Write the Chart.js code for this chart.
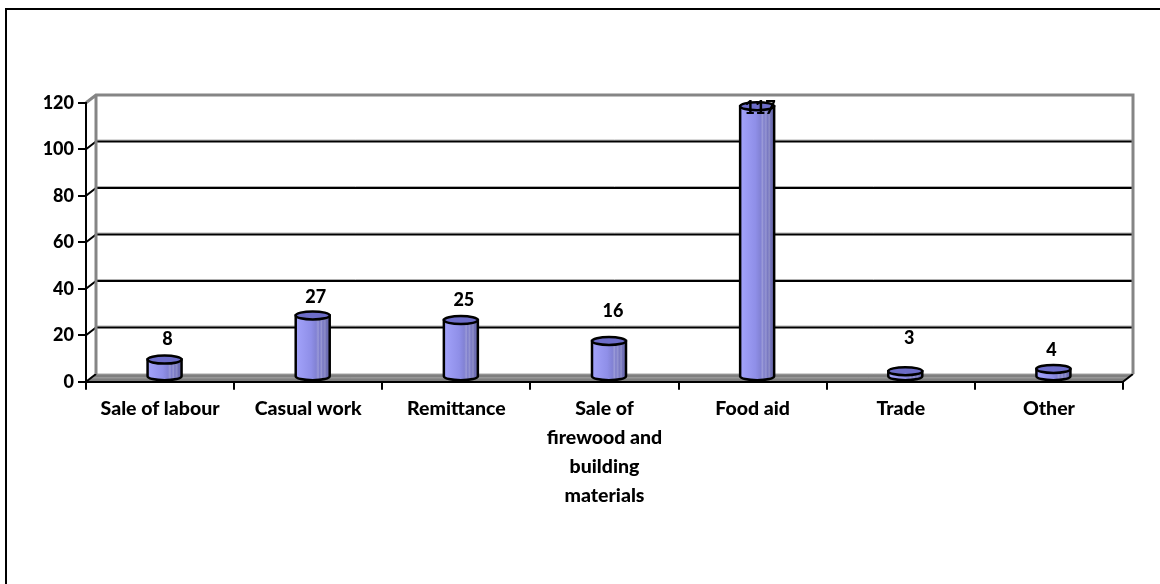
<!DOCTYPE html>
<html>
<head>
<meta charset="utf-8">
<title>Sources of income</title>
<script src="https://cdn.jsdelivr.net/npm/chart.js@4"></script>
<style>
    html, body { margin: 0; padding: 0; background: #fff; overflow: hidden; }
    #frame { position: absolute; left: 5px; top: 8px; width: 1155px; height: 576px;
             border-left: 2px solid #000; border-top: 2px solid #000; box-sizing: border-box; }
    #holder { position: absolute; left: 0; top: 0; width: 1160px; height: 584px; }
</style>
</head>
<body>
<div id="holder"><canvas id="placeholder1" width="1160" height="584"></canvas></div>
<div id="frame"></div>
<script>
const categories = [
    'Sale of labour',
    'Casual work',
    'Remittance',
    ['Sale of', 'firewood and', 'building', 'materials'],
    'Food aid',
    'Trade',
    'Other'
];
const counts = [8, 27, 25, 16, 117, 3, 4];
const yTicks = [0, 20, 40, 60, 80, 100, 120];

// label shift from the value's height on the front axis, hand placed per bar
const labelLift = [-24, -22, -23, -33, -1, -37, -22];
const labelNudge = [3, 3, 3, 4, 3, 4, -2];

const FONT = 'Lato, "Open Sans", sans-serif';
const DEPTH_X = 10;
const DEPTH_Y = 7.7;

// fake 3d box: floor, back wall edges and gridlines pushed back by the depth
const wallsPlugin = {
    id: 'walls',
    beforeDraw(chart) {
        const { ctx, chartArea: a, scales: { y } } = chart;
        const base = y.getPixelForValue(0);
        ctx.save();

        ctx.fillStyle = '#7f7f7f';
        ctx.beginPath();
        ctx.moveTo(a.left, base);
        ctx.lineTo(a.left + DEPTH_X, base - DEPTH_Y);
        ctx.lineTo(a.right + DEPTH_X, base - DEPTH_Y);
        ctx.lineTo(a.right, base);
        ctx.closePath();
        ctx.fill();
        ctx.strokeStyle = '#a6a6a6';
        ctx.lineWidth = 1;
        ctx.beginPath();
        ctx.moveTo(a.left + DEPTH_X, base - DEPTH_Y);
        ctx.lineTo(a.right + DEPTH_X, base - DEPTH_Y);
        ctx.moveTo(a.left + DEPTH_X / 2, base - DEPTH_Y / 2);
        ctx.lineTo(a.right + DEPTH_X / 2, base - DEPTH_Y / 2);
        ctx.stroke();

        yTicks.forEach(v => {
            if (v === 0 || v === 120) return;
            const py = y.getPixelForValue(v);
            // thin grey edge sits just above each black gridline
            ctx.strokeStyle = '#b0b0b0';
            ctx.lineWidth = 1;
            ctx.beginPath();
            ctx.moveTo(a.left + DEPTH_X, py - DEPTH_Y - 1.5);
            ctx.lineTo(a.right + DEPTH_X, py - DEPTH_Y - 1.5);
            ctx.stroke();
            ctx.strokeStyle = '#000';
            ctx.lineWidth = 2;
            ctx.beginPath();
            ctx.moveTo(a.left, py);
            ctx.lineTo(a.left + DEPTH_X, py - DEPTH_Y);
            ctx.lineTo(a.right + DEPTH_X, py - DEPTH_Y);
            ctx.stroke();
        });
        ctx.strokeStyle = '#000';
        ctx.lineWidth = 2;
        ctx.beginPath();
        ctx.moveTo(a.left, base);
        ctx.lineTo(a.left + DEPTH_X, base - DEPTH_Y);
        ctx.moveTo(a.right, base);
        ctx.lineTo(a.right + DEPTH_X, base - DEPTH_Y);
        ctx.stroke();

        const top = y.getPixelForValue(120);
        ctx.strokeStyle = '#858585';
        ctx.lineWidth = 3;
        ctx.beginPath();
        ctx.moveTo(a.left, top);
        ctx.lineTo(a.left + DEPTH_X, top - DEPTH_Y);
        ctx.lineTo(a.right + DEPTH_X, top - DEPTH_Y);
        ctx.lineTo(a.right + DEPTH_X, base - DEPTH_Y);
        ctx.moveTo(a.left + DEPTH_X, top - DEPTH_Y);
        ctx.lineTo(a.left + DEPTH_X, base - DEPTH_Y);
        ctx.stroke();
        ctx.restore();
    }
};

// the bars themselves are invisible, each one is painted as a cylinder
const cylinderPlugin = {
    id: 'cylinders',
    afterDatasetsDraw(chart) {
        const { ctx, scales: { y } } = chart;
        const shiftX = DEPTH_X / 2 - 0.5;
        const ry = 4;
        chart.getDatasetMeta(0).data.forEach((bar, i) => {
            const cx = bar.x + shiftX;
            const rx = bar.width / 2;
            const topY = bar.y - 3.5;
            const botY = y.getPixelForValue(0) - 5.5;

            const body = ctx.createLinearGradient(cx - rx, 0, cx + rx, 0);
            body.addColorStop(0, '#a3a3fb');
            body.addColorStop(0.45, '#8f8fe8');
            body.addColorStop(0.6, '#8282d4');
            body.addColorStop(0.66, '#9a9ad8');
            body.addColorStop(0.7, '#7e7ecb');
            body.addColorStop(0.76, '#9696d2');
            body.addColorStop(0.8, '#7878c2');
            body.addColorStop(0.86, '#8e8ec8');
            body.addColorStop(0.9, '#7070b6');
            body.addColorStop(1, '#6a6aae');

            ctx.save();
            ctx.lineWidth = 2.5;
            ctx.strokeStyle = '#000';
            ctx.fillStyle = body;
            ctx.beginPath();
            ctx.moveTo(cx - rx, topY);
            ctx.lineTo(cx - rx, botY);
            ctx.ellipse(cx, botY, rx, ry, 0, Math.PI, 0, true);
            ctx.lineTo(cx + rx, topY);
            ctx.closePath();
            ctx.fill();
            ctx.stroke();

            ctx.fillStyle = '#6d6dc9';
            ctx.beginPath();
            ctx.ellipse(cx, topY, rx, ry, 0, 0, Math.PI * 2);
            ctx.fill();
            ctx.stroke();

            ctx.fillStyle = '#000';
            ctx.font = '900 18px ' + FONT;
            ctx.textAlign = 'center';
            ctx.textBaseline = 'middle';
            ctx.fillText(String(counts[i]), bar.x + shiftX + labelNudge[i], bar.y + labelLift[i]);
            ctx.restore();
        });
    }
};

const ctx = document.getElementById('placeholder1');

const data = {
    labels: categories,
    datasets: [
        {
            label: 'Households',
            data: counts,
            backgroundColor: 'transparent',
            borderWidth: 0,
            barThickness: 34
        }
    ]
};
const config = {
    type: 'bar',
    data: data,
    plugins: [wallsPlugin, cylinderPlugin],
    options: {
        responsive: false,
        animation: false,
        layout: {
            padding: { left: 0, right: 37, top: 102.7, bottom: 0 }
        },
        plugins: {
            legend: { display: false },
            title: { display: false },
            tooltip: { enabled: false }
        },
        scales: {
            x: {
                afterFit(scale) { scale.height = 202.3; },
                grid: {
                    offset: true,
                    drawOnChartArea: false,
                    color: '#000',
                    lineWidth: 2,
                    tickLength: 8
                },
                border: { color: '#000', width: 2 },
                ticks: {
                    color: '#000',
                    maxRotation: 0,
                    autoSkip: false,
                    padding: 5,
                    font: { family: FONT, size: 19.5, weight: '900', lineHeight: 1.487 }
                }
            },
            y: {
                min: 0,
                max: 120,
                afterFit(scale) { scale.width = 86; },
                afterBuildTicks(scale) { scale.ticks = yTicks.map(v => ({ value: v })); },
                grid: {
                    drawOnChartArea: false,
                    color: '#000',
                    lineWidth: 2,
                    tickLength: 8
                },
                border: { color: '#000', width: 2 },
                ticks: {
                    color: '#000',
                    padding: 4,
                    font: { family: FONT, size: 18, weight: '900' }
                }
            }
        }
    }
};

const incomeChart = new Chart(ctx, config);
</script>
</body>
</html>
